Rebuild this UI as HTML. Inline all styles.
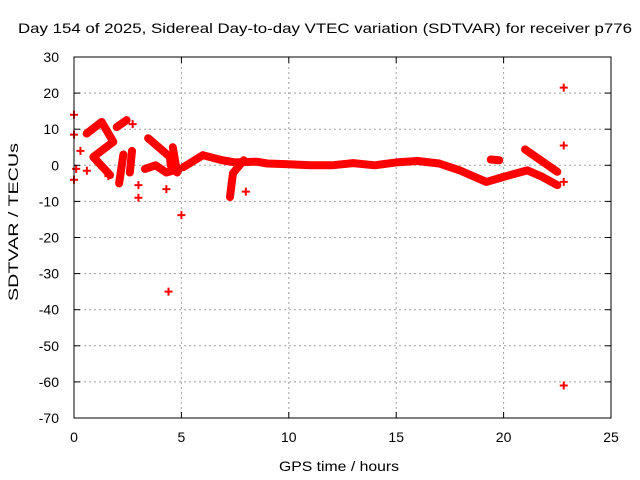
<!DOCTYPE html>
<html><head><meta charset="utf-8"><style>
body{margin:0;background:#fff}
svg{display:block;font-family:"Liberation Sans",sans-serif}
</style></head><body>
<svg id="chart" width="640" height="480">
<text x="325" y="33" text-anchor="middle" font-size="14" textLength="614" lengthAdjust="spacingAndGlyphs">Day 154 of 2025, Sidereal Day-to-day VTEC variation (SDTVAR) for receiver p776</text>
<text x="339" y="471" text-anchor="middle" font-size="14" textLength="120" lengthAdjust="spacingAndGlyphs">GPS time / hours</text>
<text transform="translate(18,222) rotate(-90)" text-anchor="middle" font-size="14" textLength="158" lengthAdjust="spacingAndGlyphs">SDTVAR / TECUs</text>
<g id="grid"></g><g id="marks"></g><g id="axes"></g>
</svg>
<script>
const xTicks=[0,5,10,15,20,25];
const yTicks=[30,20,10,0,-10,-20,-30,-40,-50,-60,-70];
// bands (hour, value) traced along the dense streaks
const trackA=[[0.59,8.8],[1.29,12],[1.83,6.5],[0.9,2.3],[1.68,-2.7]];
const trackB=[[1.99,10.6],[2.45,12.5]];
const trackC=[[2.1,-5],[2.3,3]];
const trackD=[[2.6,-2],[2.7,4]];
const trackE=[[3.45,7.5],[4.0,4.7],[4.47,2.3],[4.5,0]];
const trackF=[[3.3,-1],[3.8,0],[4.3,-2],[4.9,-1]];
const trackG=[[4.6,5],[4.8,-2]];
const trackH=[[5.1,-0.5],[6.0,2.8],[6.9,1.4],[7.5,0.8],[8.5,1],[9,0.5],[10,0.3],[11,0],[12,0],[13,0.6],[14,0],[15,0.8],[16,1.2],[17,0.5],[18,-1.5],[18.3,-2.3],[19.2,-4.6],[20,-3.2],[21.1,-1.4],[21.8,-3.2],[22.5,-5.5]];
const trackI=[[7.9,1.4],[7.4,-2.2],[7.26,-8.8]];
const trackJ=[[21.0,4.4],[22.5,-1.8]];
const trackK=[[19.4,1.6],[19.8,1.4]];
const tracks=[trackA,trackB,trackC,trackD,trackE,trackF,trackG,trackH,trackI,trackJ,trackK];
const pointsH=[0,0,0.1,0,0.3,2.73,3.0,3.0,4.3,5.0,4.4,8.0,22.8,22.8,22.8,22.8,0.6,1.6];
const pointsV=[14,8.5,-1,-4,4,11.4,-5.5,-9,-6.6,-13.8,-35,-7.3,21.5,5.5,-4.6,-61,-1.5,-3];
const X0=74,X1=611,Y0=57,Y1=418;
const sx=h=>X0+(h-0)/(25-0)*(X1-X0);
const sy=v=>Y1-(v+70)/(100)*(Y1-Y0);
const NS="http://www.w3.org/2000/svg";
function mk(tag,attrs,parent){const e=document.createElementNS(NS,tag);for(const k in attrs)e.setAttribute(k,attrs[k]);parent.appendChild(e);return e;}
const grid=document.getElementById('grid'),marks=document.getElementById('marks'),axes=document.getElementById('axes');
xTicks.forEach(t=>{const x=sx(t);
 if(t>0&&t<25){const l=mk('line',{x1:x,y1:Y0,x2:x,y2:Y1,stroke:'#a0a0a0','stroke-dasharray':'2,3'},grid);
 
 }
 mk('line',{x1:x,y1:Y1,x2:x,y2:Y1-6,stroke:'#000'},axes);
 mk('line',{x1:x,y1:Y0,x2:x,y2:Y0+6,stroke:'#000'},axes);
 const tx=mk('text',{x:x,y:Y1+24,'text-anchor':'middle','font-size':14},axes);tx.textContent=t;
 
 });
yTicks.forEach(t=>{const y=sy(t);
 if(t>-70&&t<30){const l=mk('line',{x1:X0,y1:y,x2:X1,y2:y,stroke:'#a0a0a0','stroke-dasharray':'2,3'},grid);
 
 }
 mk('line',{x1:X0,y1:y,x2:X0+6,y2:y,stroke:'#000'},axes);
 mk('line',{x1:X1,y1:y,x2:X1-6,y2:y,stroke:'#000'},axes);
 const tx=mk('text',{x:X0-15,y:y+5,'text-anchor':'end','font-size':14},axes);tx.textContent=t;
 
 });
const fr=mk('rect',{x:X0,y:Y0,width:X1-X0,height:Y1-Y0,fill:'none',stroke:'#000'},axes);


tracks.forEach(tr=>{
 const p=mk('polyline',{points:tr.map(d=>sx(d[0])+','+sy(d[1])).join(' '),fill:'none',stroke:'#f00','stroke-width':8,'stroke-linejoin':'round','stroke-linecap':'round'},marks);
 
 });
function plus(x,y){const g=mk('path',{d:`M${x-4},${y}H${x+4}M${x},${y-4}V${y+4}`,stroke:'#f00','stroke-width':2},marks);return g;}
pointsH.forEach((h,i)=>{const g=plus(sx(h),sy(pointsV[i]));
 
 });
</script>
</body></html>
